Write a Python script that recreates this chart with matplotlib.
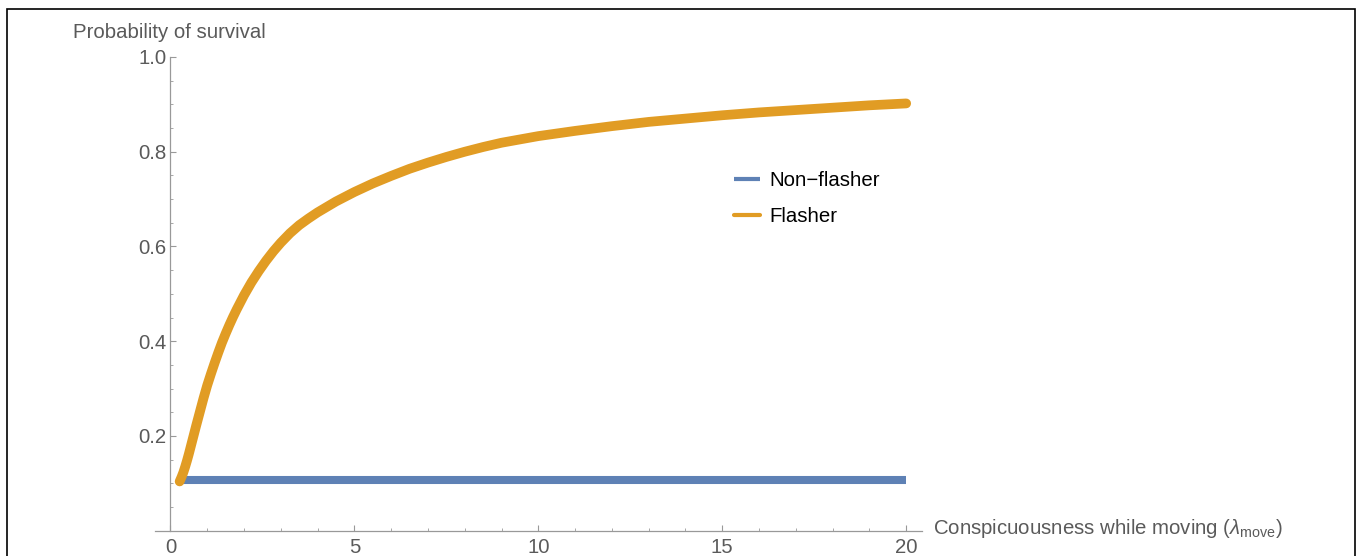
import matplotlib
matplotlib.use('Agg')
import matplotlib.pyplot as plt
from matplotlib.patches import Rectangle
from matplotlib.ticker import MultipleLocator

plt.rcParams['font.family'] = ['Liberation Sans', 'DejaVu Sans']
plt.rcParams['mathtext.fontset'] = 'custom'
plt.rcParams['mathtext.rm'] = 'Liberation Sans'
plt.rcParams['mathtext.it'] = 'Liberation Sans:italic'

# values
lam_move = [0.25, 0.3, 0.35, 0.4, 0.45, 0.5, 0.55, 0.6, 0.7, 0.8, 0.9, 1.0,
            1.1, 1.2, 1.3, 1.4, 1.5, 1.6, 1.7, 1.8, 1.9, 2.0, 2.2, 2.4, 2.6,
            2.8, 3.0, 3.25, 3.5, 3.75, 4.0, 4.5, 5.0, 5.5, 6.0, 6.5, 7.0, 7.5,
            8.0, 8.5, 9.0, 9.5, 10.0, 11.0, 12.0, 13.0, 14.0, 15.0, 16.0,
            17.0, 18.0, 19.0, 20.0]
flasher = [0.104, 0.113, 0.123, 0.135, 0.148, 0.162, 0.177, 0.192, 0.222,
           0.251, 0.28, 0.307, 0.331, 0.354, 0.376, 0.397, 0.416, 0.434, 0.451,
           0.467, 0.482, 0.497, 0.524, 0.548, 0.57, 0.59, 0.608, 0.628, 0.645,
           0.659, 0.672, 0.695, 0.715, 0.733, 0.749, 0.764, 0.777, 0.789, 0.8,
           0.81, 0.819, 0.826, 0.833, 0.844, 0.854, 0.863, 0.87, 0.877, 0.883,
           0.888, 0.893, 0.898, 0.902]
non_x = [0.25, 20.0]
non_flasher = [0.107, 0.107]

blue = '#5E81B5'
orange = '#E19C24'
grey = '#999999'
txt = '#5a5a5a'
fs = 14.7

fig = plt.figure(figsize=(13.57, 5.56), dpi=100)
fig.patches.append(Rectangle((7 / 1357, -0.01), 1348 / 1357, 1 - 9 / 556 + 0.01,
                             transform=fig.transFigure, fill=False,
                             edgecolor='black', linewidth=1.2))

ax = fig.add_axes([155 / 1357, 25.3 / 556, 767 / 1357, 473.7 / 556])
ax.plot(non_x, non_flasher, color=blue, linewidth=5.8, solid_capstyle='butt',
        label='Non\u2212flasher', clip_on=False)
ax.plot(lam_move, flasher, color=orange, linewidth=7, solid_capstyle='round',
        solid_joinstyle='round', label='Flasher', clip_on=False)

ax.set_xlim(-0.42, 20.43)
ax.set_ylim(0, 1.0)

for s in ['top', 'right']:
    ax.spines[s].set_visible(False)
ax.spines['left'].set_position(('data', 0))
ax.spines['left'].set_bounds(0, 1.0)
for s in ['left', 'bottom']:
    ax.spines[s].set_color(grey)
    ax.spines[s].set_linewidth(0.9)

ax.xaxis.set_major_locator(MultipleLocator(5))
ax.xaxis.set_minor_locator(MultipleLocator(1))
ax.set_yticks([0.2, 0.4, 0.6, 0.8, 1.0])
ax.set_yticklabels(['0.2', '0.4', '0.6', '0.8', '1.0'])
ax.yaxis.set_minor_locator(MultipleLocator(0.05))
ax.tick_params(which='major', direction='in', length=4.5, width=0.8, color=grey,
               labelsize=fs, labelcolor=txt)
ax.tick_params(which='minor', direction='in', length=2.5, width=0.6, color=grey)
ax.tick_params(axis='x', pad=5)
ax.tick_params(axis='y', pad=3)

fig.text(73 / 1357, 1 - 33 / 556, 'Probability of survival', fontsize=fs,
         color=txt, ha='left', va='center')
fig.text(933 / 1357, 1 - 529 / 556,
         r'Conspicuousness while moving ($\lambda_{\mathrm{move}}$)',
         fontsize=fs, color=txt, ha='left', va='center')

ax.legend(loc='upper left', bbox_to_anchor=(734 / 1357, 1 - 171 / 556),
          bbox_transform=fig.transFigure, frameon=False, fontsize=fs,
          handlelength=1.25, handletextpad=0.5, labelspacing=0.82,
          borderpad=0, borderaxespad=0)
for line in ax.get_legend().get_lines():
    line.set_linewidth(3)

fig.savefig('out.png', dpi=100)
